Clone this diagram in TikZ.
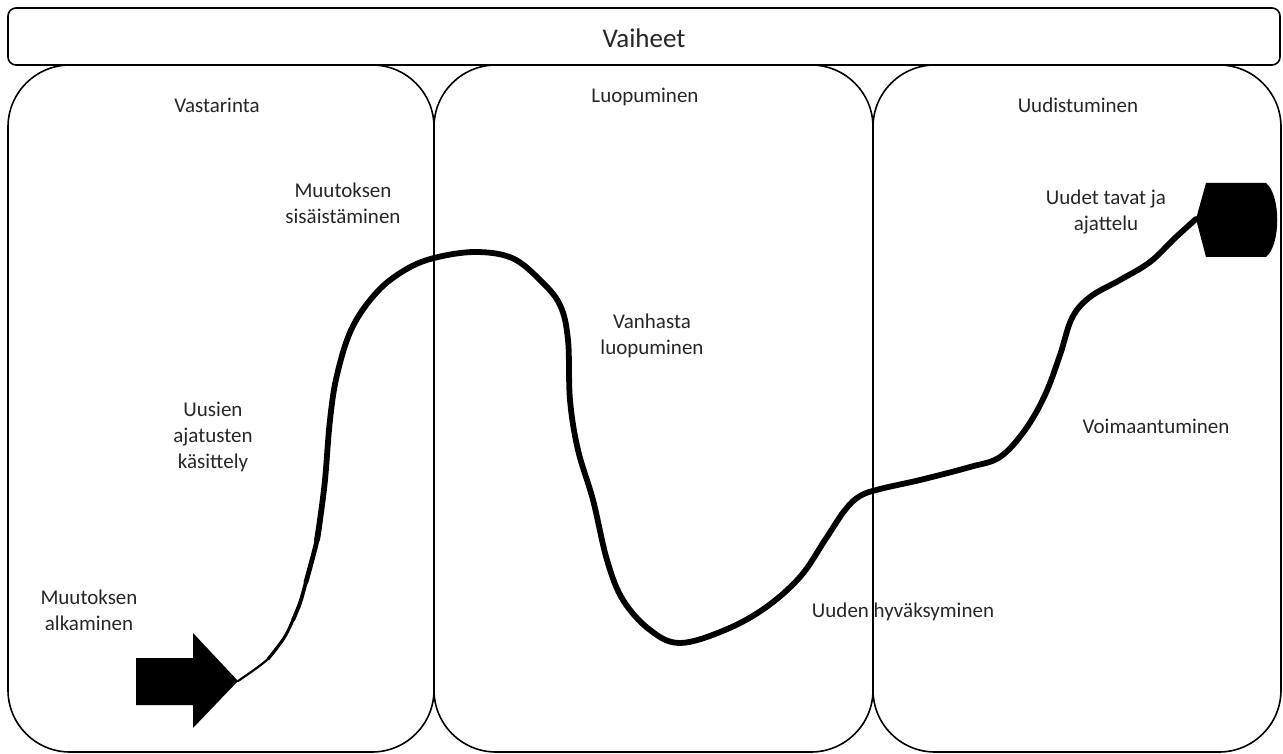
\documentclass[tikz,border=0pt]{standalone}
\usepackage{fontspec}
\setmainfont{Carlito}
\begin{document}
\begin{tikzpicture}[x=1pt,y=-1pt,
  frame/.style={draw=black, line width=1.6pt, rounded corners=62pt, inner sep=0pt},
  bar/.style={draw=black, line width=1.6pt, rounded corners=8pt, inner sep=0pt},
  lbl/.style={align=center, inner sep=0pt, font=\fontsize{21}{26}\selectfont, text=black!85},
  path/.style={draw=black, line cap=round, line join=round}
]
\useasboundingbox (0,0) rectangle (1283,754);
% panels
\node[frame, minimum width=426pt, minimum height=687pt] (p1) at (221,408.5) {};
\node[frame, minimum width=439pt, minimum height=687pt] (p2) at (653.5,408.5) {};
\node[frame, minimum width=408pt, minimum height=687pt] (p3) at (1077,408.5) {};
\node[bar, fill=white, minimum width=1272pt, minimum height=57pt] (top) at (644,36.5) {};
% labels
\node[lbl, font=\fontsize{27}{32}\selectfont] (vaiheet) at (644,38) {Vaiheet};
\node[lbl] (vast) at (217,105) {Vastarinta};
\node[lbl] (luop) at (645,97) {Luopuminen};
\node[lbl] (uud) at (1078,105) {Uudistuminen};
\node[lbl] (sis) at (343,203) {Muutoksen\\sisäistäminen};
\node[lbl] (kas) at (213,437) {Uusien\\ajatusten\\käsittely};
\node[lbl] (alk) at (89,610) {Muutoksen\\alkaminen};
\node[lbl] (vanh) at (652,336) {Vanhasta\\luopuminen};
\node[lbl] (hyv) at (903,612) {Uuden hyväksyminen};
\node[lbl] (voim) at (1156,426) {Voimaantuminen};
\node[lbl] (tavat) at (1106,212) {Uudet tavat ja\\ajattelu};
% start arrow
\coordinate (start) at (238,681);
\coordinate (finish) at (1196,219);
\fill[black] (136,658) -- (193,658) -- (193,633) -- (start) -- (193,728) -- (193,705) -- (136,705) -- cycle;
% end shape
\fill[black] (finish) -- (1206,183) -- (1266,183) .. controls (1281,195) and (1281,245) .. (1266,257) -- (1206,257) -- cycle;
% path (thin at start, thickening)
\draw[path, line width=2.2pt] plot[smooth, tension=0.6] coordinates {(start) (268,659) (284,638)};
\draw[path, line width=3.0pt] plot[smooth, tension=0.6] coordinates {(268,659) (284,638) (293,620) (300,603)};
\draw[path, line width=3.8pt] plot[smooth, tension=0.6] coordinates {(293,620) (300,603) (306,582) (312,560)};
\draw[path, line width=4.8pt] plot[smooth, tension=0.6] coordinates {(306,582) (312,560) (317,540) (320,520)};
\draw[path, line width=5.8pt] plot[smooth, tension=0.6] coordinates {(317,540) (320,520) (325,480) (330,420) (337,375) (352,328) (377,292) (405,270) (434,258) (475,252) (512,258) (540,280) (560,305) (568,340) (570,400) (578,450) (593,500) (607,560) (623,600) (650,630) (680,643) (725,630) (765,608) (800,577) (825,540) (845,510) (860,496) (880,489) (920,480) (970,467) (1000,457) (1025,430) (1045,395) (1060,355) (1072,318) (1090,297) (1120,280) (1150,262) (1175,238) (finish)};
\end{tikzpicture}
\end{document}
